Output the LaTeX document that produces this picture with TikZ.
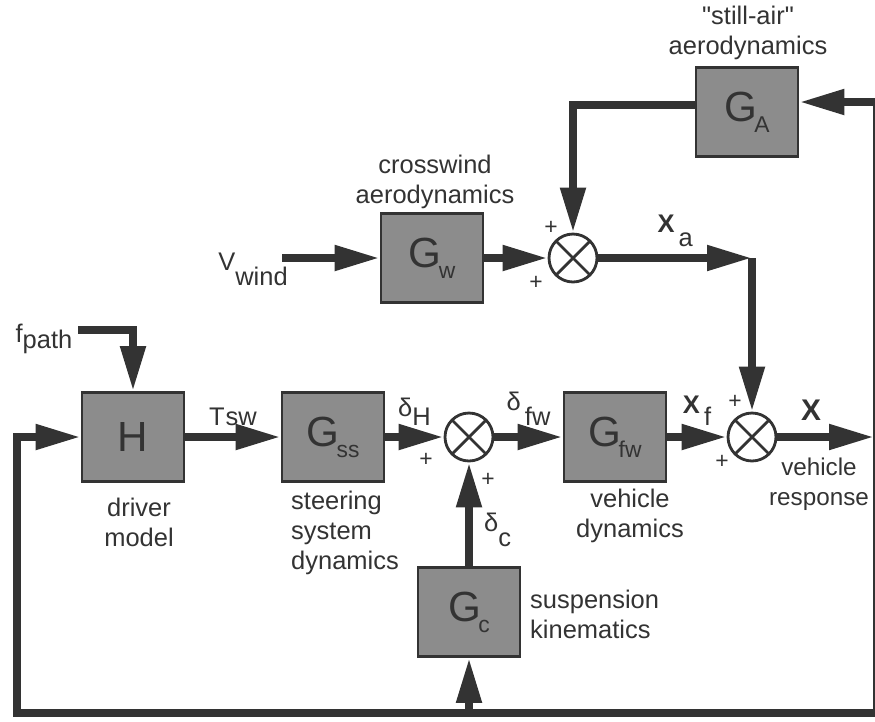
\documentclass[tikz,border=0pt]{standalone}
\usepackage{fontspec}
\setmainfont{Liberation Sans}
\newfontfamily\quotefont{Liberation Sans}
\usetikzlibrary{arrows.meta}
\definecolor{ink}{gray}{0.2}
\newcommand{\lowsub}[2][0.28cm]{\raisebox{-#1}{#2}}
\newcommand{\boxsub}[1]{\kern-1.5pt\raisebox{-0.22cm}{\fontsize{13}{13}\selectfont #1}}

\begin{document}
\begin{tikzpicture}[x=0.02cm,y=-0.02cm,>={Triangle[length=0.9cm,width=0.48cm]},
  wire/.style={draw=ink,line width=0.16cm},
  block/.style={draw=ink,line width=1.6pt,fill=black!45,text=ink,
    minimum width=2.04cm,minimum height=1.78cm,inner sep=0pt,
    font=\fontsize{24}{26}\selectfont},
  sumnode/.style={circle,draw=ink,line width=1.6pt,fill=white,
    minimum size=0.96cm,inner sep=0pt,
    path picture={\draw[ink,line width=1.6pt]
      (path picture bounding box.north west) -- (path picture bounding box.south east)
      (path picture bounding box.south west) -- (path picture bounding box.north east);}},
  lbl/.style={text=ink,font=\fontsize{14.5}{17}\selectfont},
  plus/.style={text=ink,font=\fontsize{13}{13}\selectfont}]
\useasboundingbox (0,0) rectangle (875,721);

% blocks and summing points
\node[block] (H) at (133,437) {H};
\node[block] (Gss) at (333,437) {G\boxsub{ss}};
\node[sumnode] (S1) at (469,437) {};
\node[block] (Gfw) at (615,437) {G\boxsub{fw}};
\node[sumnode] (S2) at (752,437) {};
\node[block] (Gc) at (469,612) {G\boxsub{c}};
\node[block] (Gw) at (432,258) {G\boxsub{w}};
\node[sumnode] (S3) at (573,258) {};
\node[block] (GA) at (747,112) {G\boxsub{A}};

\coordinate (fin) at (78,330);
\coordinate (vin) at (282,258);
\coordinate (xout) at (874,437);
\coordinate (xa) at (S2 |- S3);
\coordinate (gaR) at ([yshift=0.2cm]GA.east);
\coordinate (gaL) at ([yshift=0.14cm]GA.west);
\coordinate (fbR) at (877,713);
\coordinate (fbL) at (17,713);

% texts
\node[lbl] (fpath) at (44,339) {f\lowsub[0.12cm]{path}};
\node[lbl] (vwind) at (253,269) {V\lowsub[0.3cm]{wind}};
\node[lbl,align=center] (drv) at (139,522) {driver\\model};
\node[lbl,align=left] (steer) at (345,533) {steering\\system\\dynamics};
\node[lbl,align=center] (vdyn) at (630,516) {vehicle\\dynamics};
\node[lbl,align=center,font=\fontsize{13.8}{17}\selectfont] (vresp) at (819,484) {vehicle\\response};
\node[lbl,align=left,anchor=west] (susp) at (524,614) {suspension\\kinematics};
\node[lbl,align=center] (cw) at (435,182) {crosswind\\aerodynamics};
\node[lbl,align=center] (sa) at (748,33) {{\quotefont"}still-air{\quotefont"}\\aerodynamics};
\node[lbl,font=\fontsize{17}{18}\selectfont\bfseries] (xlab) at (811,410) {X};

\node[plus] (p1) at (426,460) {+};
\node[plus] (p2) at (488,480) {+};
\node[plus] (p3) at (735,402) {+};
\node[plus] (p4) at (722,462) {+};
\node[plus] (p5) at (551,228) {+};
\node[plus] (p6) at (536,283) {+};

% signal paths
\draw[wire,->] (fin) -| (H);
\draw[wire,->] (H) -- node[lbl,above=1pt] {T\kern0.5pt sw} (Gss);
\draw[wire,->] (Gss) -- node[lbl,above=1pt] {δ\lowsub[0.18cm]{H}} (S1);
\draw[wire,->] (S1) -- node[lbl,above=1pt] {δ\,\lowsub[0.3cm]{fw}} (Gfw);
\draw[wire,->] (Gfw) -- node[lbl,above=1pt] {\textbf{X}\,\lowsub[0.24cm]{f}} (S2);
\draw[wire,->] (S2) -- (xout);
\draw[wire,->] (Gc) -- node[lbl,right=3pt,pos=0.35] {δ\lowsub[0.3cm]{c}} (S1);
\draw[wire,->] (vin) -- (Gw);
\draw[wire,->] (Gw) -- (S3);
\draw[wire,->] (gaL) -| (S3);
\draw[wire,->] (S3) -- node[lbl,above=1pt] {\textbf{X}\,\lowsub[0.28cm]{a}} (xa);
\draw[wire,->] (xa) -- (S2);

% feedback
\draw[wire,<->] (gaR) -| (fbR) -- (fbL) |- (H);
\draw[wire,->] (Gc |- fbL) -- (Gc);
\end{tikzpicture}
\end{document}
